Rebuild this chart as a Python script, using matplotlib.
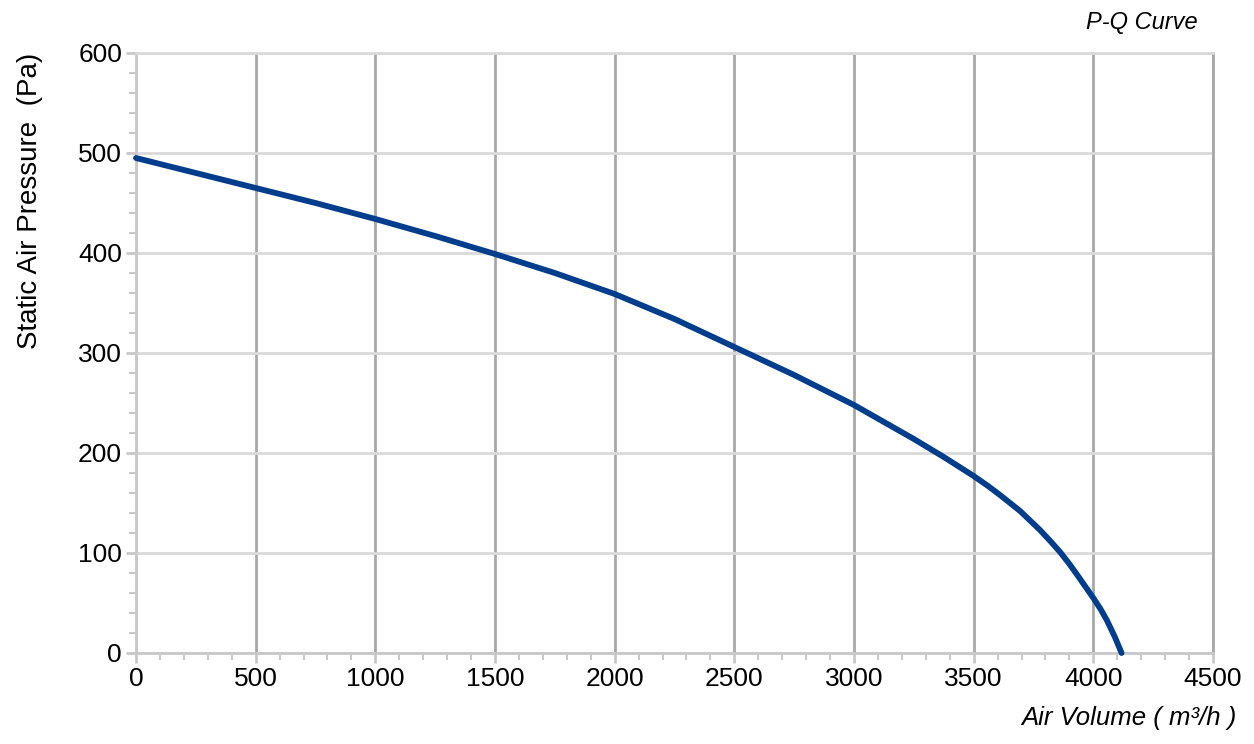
import matplotlib
matplotlib.use('Agg')
import matplotlib.pyplot as plt
from matplotlib.ticker import MultipleLocator

plt.rcParams['font.family'] = ['Liberation Sans', 'DejaVu Sans']

# P-Q curve
airVolume = [0, 250, 500, 750, 1000, 1250, 1500, 1750, 2000, 2250, 2500, 2750,
             3000, 3125, 3250, 3375, 3500, 3560, 3610, 3694, 3777, 3820, 3861,
             3900, 3930, 3965, 4000, 4030, 4056, 4090, 4118]
pressure = [495, 480, 465, 450, 434, 417, 399, 380, 359, 334, 306, 278,
            248, 231, 214, 196, 177, 167, 158, 142, 123, 112, 101,
            89, 79, 67, 55, 44, 33, 16, 0]

xTicks = [0, 500, 1000, 1500, 2000, 2500, 3000, 3500, 4000, 4500]
yTicks = [0, 100, 200, 300, 400, 500, 600]

LINE = '#003d8c'
HGRID = '#d9d9d9'
VGRID = '#a8a8a8'
AXIS = '#c8c8c8'

fig = plt.figure(figsize=(12.54, 7.44), dpi=100)
ax = fig.add_axes([136 / 1254, 1 - 653 / 744, 1077 / 1254, 600 / 744])

ax.set_xlim(0, 4500)
ax.set_ylim(0, 600)
ax.set_xticks(xTicks)
ax.set_yticks(yTicks)
ax.xaxis.set_minor_locator(MultipleLocator(100))
ax.yaxis.set_minor_locator(MultipleLocator(20))

ax.grid(axis='x', which='major', color=VGRID, linewidth=2)
ax.grid(axis='y', which='major', color=HGRID, linewidth=2)
ax.set_axisbelow(True)

for side in ('left', 'bottom'):
	ax.spines[side].set_color(AXIS)
	ax.spines[side].set_linewidth(2)
ax.spines['top'].set_color(HGRID)
ax.spines['top'].set_linewidth(2)
ax.spines['right'].set_color(VGRID)
ax.spines['right'].set_linewidth(2)

ax.tick_params(which='major', direction='out', length=7, width=2, color=AXIS,
               labelsize=19, labelcolor='black', pad=3)
ax.tick_params(which='minor', direction='out', length=5, width=1.5, color=AXIS)

ax.plot(airVolume, pressure, color=LINE, linewidth=4.2, solid_capstyle='round',
        solid_joinstyle='round', clip_on=False, zorder=5)

fig.text(30 / 1254, 1 - 201 / 744, 'Static Air Pressure  (Pa)', rotation=90,
         ha='center', va='center', fontsize=20)
fig.text(1142 / 1254, 1 - 22 / 744, 'P-Q Curve', ha='center', va='center',
         fontsize=17, style='italic')
fig.text(1237 / 1254, 1 - 718 / 744, 'Air Volume ( m³/h )', ha='right', va='center',
         fontsize=18.5, style='italic')

fig.savefig('out.png', dpi=100)
